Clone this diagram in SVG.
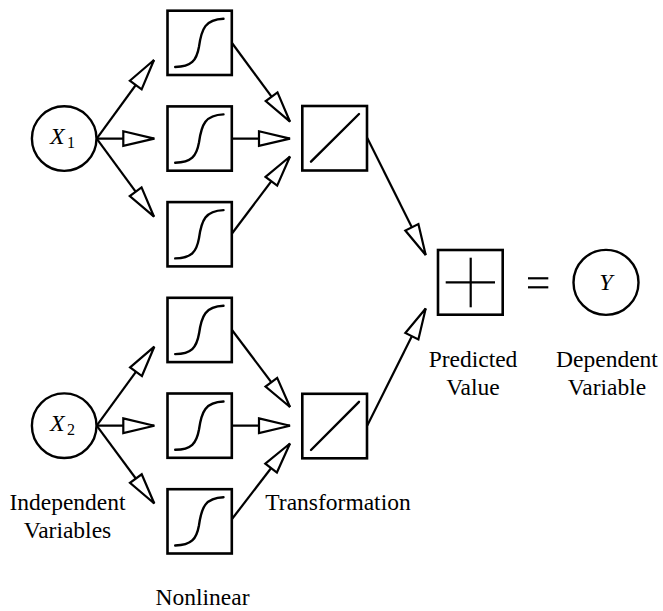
<svg xmlns="http://www.w3.org/2000/svg" width="663" height="611" viewBox="0 0 663 611">
<style>
.box{fill:#fff;stroke:#000;stroke-width:2.6}
.circ{fill:#fff;stroke:#000;stroke-width:2.4}
.curve{fill:none;stroke:#000;stroke-width:2.4;stroke-linecap:round}
.conn{fill:none;stroke:#000;stroke-width:2.2}
text{font-family:'Liberation Serif','Times New Roman',serif;fill:#000}
.lbl{font-size:23.5px;text-anchor:middle}
.var{font-size:24px;font-style:italic}
.sub{font-size:16px}
</style>
<defs>
<marker id="arr" markerUnits="userSpaceOnUse" markerWidth="40" markerHeight="20" viewBox="-2 -10 36 20" refX="31" refY="0" orient="auto" overflow="visible">
<path d="M0,-7.3 L31,0 L0,7.3 Z" fill="#fff" stroke="#000" stroke-width="2.2" stroke-linejoin="miter"/>
</marker>
<path id="sig" class="curve" d="M7.7,56.3 C24,56 29,50 31.5,36 C34,18 38,8.5 56,8"/>
</defs>
<g id="connectors">
<line class="conn" x1="96.7" y1="138.6" x2="154" y2="60" marker-end="url(#arr)"/>
<line class="conn" x1="96.7" y1="138.6" x2="154.3" y2="138.6" marker-end="url(#arr)"/>
<line class="conn" x1="96.7" y1="138.6" x2="154" y2="216.7" marker-end="url(#arr)"/>
<line class="conn" x1="96.7" y1="425.7" x2="154.3" y2="346.7" marker-end="url(#arr)"/>
<line class="conn" x1="96.7" y1="425.7" x2="154.3" y2="425.7" marker-end="url(#arr)"/>
<line class="conn" x1="96.7" y1="425.7" x2="154.3" y2="503.5" marker-end="url(#arr)"/>
<line class="conn" x1="232" y1="43" x2="290" y2="121.7" marker-end="url(#arr)"/>
<line class="conn" x1="232" y1="138.6" x2="290" y2="138.6" marker-end="url(#arr)"/>
<line class="conn" x1="232" y1="233.5" x2="290" y2="156.5" marker-end="url(#arr)"/>
<line class="conn" x1="232" y1="330" x2="290" y2="407" marker-end="url(#arr)"/>
<line class="conn" x1="232" y1="425.7" x2="290" y2="425.7" marker-end="url(#arr)"/>
<line class="conn" x1="232" y1="519" x2="290" y2="443.5" marker-end="url(#arr)"/>
<line class="conn" x1="367.3" y1="138" x2="425.7" y2="255" marker-end="url(#arr)"/>
<line class="conn" x1="367.3" y1="425.5" x2="425.7" y2="308.5" marker-end="url(#arr)"/>
</g>
<g id="x1">
<circle class="circ" cx="64.2" cy="138.6" r="32.3"/>
<text class="var" x="50" y="144.3">X</text><text class="sub" x="67" y="147.5">1</text>
</g>
<g id="x2">
<circle class="circ" cx="64.2" cy="425.7" r="32.3"/>
<text class="var" x="50" y="431.4">X</text><text class="sub" x="67" y="434.6">2</text>
</g>
<g id="s1"><rect class="box" x="167.5" y="10.7" width="64.3" height="64.3"/><use href="#sig" x="167.5" y="10.7"/></g>
<g id="s2"><rect class="box" x="167.5" y="106.4" width="64.3" height="64.3"/><use href="#sig" x="167.5" y="106.4"/></g>
<g id="s3"><rect class="box" x="167.5" y="202.1" width="64.3" height="64.3"/><use href="#sig" x="167.5" y="202.1"/></g>
<g id="s4"><rect class="box" x="167.5" y="297.8" width="64.3" height="64.3"/><use href="#sig" x="167.5" y="297.8"/></g>
<g id="s5"><rect class="box" x="167.5" y="393.5" width="64.3" height="64.3"/><use href="#sig" x="167.5" y="393.5"/></g>
<g id="s6"><rect class="box" x="167.5" y="489.2" width="64.3" height="64.3"/><use href="#sig" x="167.5" y="489.2"/></g>
<g id="lin1"><rect class="box" x="302.3" y="106" width="64.7" height="64.5"/><line class="curve" x1="311" y1="161.7" x2="359" y2="114"/></g>
<g id="lin2"><rect class="box" x="302.3" y="393.8" width="64.7" height="64.5"/><line class="curve" x1="311" y1="450" x2="359" y2="401.8"/></g>
<g id="sum">
<rect class="box" x="438" y="250" width="64.7" height="64.7"/>
<line class="conn" x1="445.7" y1="282.4" x2="495" y2="282.4"/>
<line class="conn" x1="470.7" y1="257.7" x2="470.7" y2="307.3"/>
<text class="lbl" x="473" y="366.7">Predicted</text>
<text class="lbl" x="473" y="395">Value</text>
</g>
<g id="equals">
<line class="conn" x1="528" y1="278.3" x2="548.3" y2="278.3"/>
<line class="conn" x1="528" y1="287.3" x2="548.3" y2="287.3"/>
</g>
<g id="y">
<circle class="circ" cx="606" cy="282.4" r="32.5"/>
<text class="var" x="606" y="290" text-anchor="middle">Y</text>
<text class="lbl" x="607" y="366.7">Dependent</text>
<text class="lbl" x="607" y="395">Variable</text>
</g>
<g id="labels">
<text class="lbl" x="67.5" y="510">Independent</text>
<text class="lbl" x="67.5" y="538.3">Variables</text>
<text class="lbl" x="338" y="510">Transformation</text>
<text class="lbl" x="202.5" y="605">Nonlinear</text>
</g>
</svg>
